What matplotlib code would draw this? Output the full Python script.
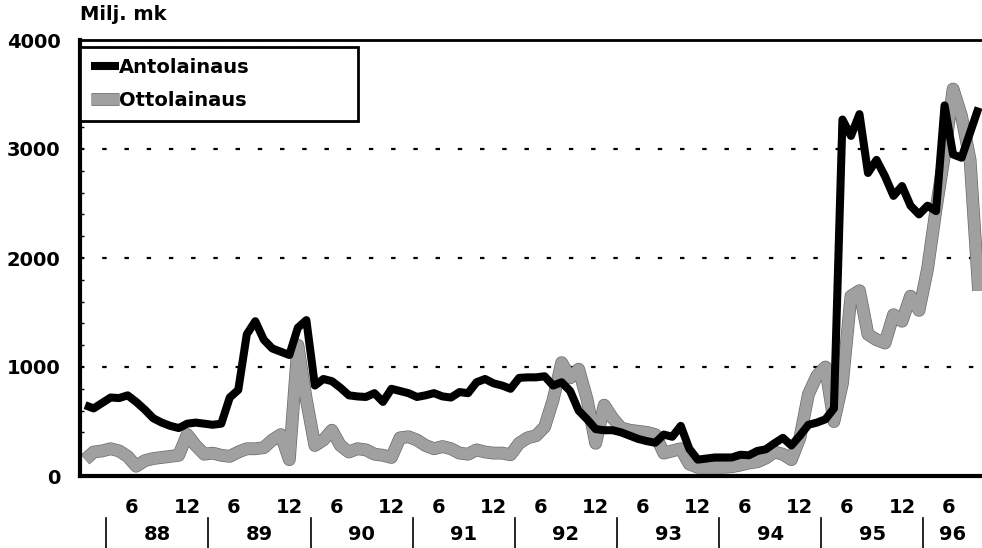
import matplotlib
matplotlib.use('Agg')
import matplotlib.pyplot as plt
import matplotlib.patheffects as pe
import numpy as np

plt.rcParams['font.family'] = ['DejaVu Sans']
plt.rcParams['font.weight'] = 'bold'

# monthly values, Jan 1988 -> Oct 1996 (milj. mk)
antolainaus = [650, 620, 670, 720, 715, 740, 680, 610, 530, 490, 460, 440,
               480, 490, 480, 470, 480, 720, 790, 1300, 1420, 1250, 1170, 1140,
               1110, 1360, 1430, 830, 890, 870, 810, 740, 730, 725, 760, 680,
               800, 780, 760, 725, 740, 760, 730, 720, 770, 760, 860, 890,
               850, 830, 800, 900, 905, 905, 915, 830, 860, 780, 600, 520,
               430, 420, 420, 400, 370, 340, 320, 305, 380, 360, 460, 250,
               150, 160, 170, 170, 170, 195, 190, 230, 245, 300, 350, 280,
               370, 470, 490, 520, 620, 3270, 3120, 3320, 2780, 2900, 2750, 2570,
               2660, 2480, 2400, 2480, 2430, 3400, 2950, 2920, 3150, 3380]
ottolainaus = [150, 220, 230, 250, 230, 180, 90, 140, 160, 170, 180, 190,
               380, 280, 200, 210, 190, 180, 220, 250, 250, 260, 330, 380,
               150, 1200, 700, 280, 330, 420, 280, 220, 250, 240, 200, 190,
               170, 350, 360, 330, 280, 250, 270, 250, 210, 200, 240, 220,
               210, 210, 195, 300, 350, 370, 450, 700, 1040, 900, 980, 700,
               300, 650, 530, 440, 420, 410, 400, 380, 210, 230, 250, 110,
               80, 80, 80, 80, 85, 100, 120, 130, 165, 220, 200, 150,
               350, 750, 920, 1000, 500, 850, 1650, 1700, 1300, 1250, 1220, 1480,
               1420, 1650, 1520, 1900, 2450, 2950, 3550, 3300, 2900, 1700]
years = ['88', '89', '90', '91', '92', '93', '94', '95', '96']
month_labels = ['6', '12']
yticks = [0, 1000, 2000, 3000, 4000]

months = np.arange(len(antolainaus))

fig = plt.figure(figsize=(9.82, 5.48), dpi=100)
ax = fig.add_axes([80/982, 1-476/548, 902/982, 436/548])

gl, = ax.plot(months, ottolainaus, color='#a0a0a0', lw=8.2, solid_joinstyle='round',
              solid_capstyle='butt', label='Ottolainaus',
              path_effects=[pe.Stroke(linewidth=9.2, foreground='#6a6a6a'), pe.Normal()])
bl, = ax.plot(months, antolainaus, color='black', lw=5.8, solid_joinstyle='round',
              solid_capstyle='butt', label='Antolainaus')

ax.set_xlim(-0.6, len(antolainaus) - 0.6)
ax.set_ylim(0, 4000)
ax.set_yticks(yticks)
ax.set_yticklabels([str(v) for v in yticks], fontsize=14, fontweight='bold')
ax.set_yticks(np.arange(0, 4001, 200), minor=True)
ax.tick_params(axis='y', which='major', length=0, pad=14)
ax.tick_params(axis='y', which='minor', length=3, width=1, direction='in')
ax.set_xticks([])

ax.yaxis.grid(True, linestyle=(0, (2, 8)), linewidth=1.6, color='black')
ax.set_axisbelow(True)

ax.spines['right'].set_visible(False)
ax.spines['left'].set_linewidth(3)
ax.spines['bottom'].set_linewidth(3)
ax.spines['top'].set_linewidth(2)

# x labels: month numbers, year labels and separators
trans = ax.get_xaxis_transform()
for i, y in enumerate(years):
    start = 12 * i + 2.5
    end = min(start + 12, len(antolainaus) - 0.6)
    ax.plot([start, start], [-0.096, -0.17], color='black', lw=1.2,
            transform=trans, clip_on=False)
    ax.text((start + end) / 2, -0.135, y, transform=trans, ha='center', va='center',
            fontsize=14, fontweight='bold')
    for m in month_labels:
        pos = 12 * i + (5.5 if m == '6' else 12)
        if pos < len(antolainaus) - 1:
            ax.text(pos, -0.072, m, transform=trans, ha='center', va='center',
                    fontsize=14, fontweight='bold')

fig.text(80/982, 1-14/548, 'Milj. mk', ha='left', va='center', fontsize=14, fontweight='bold')

leg = ax.legend(handles=[bl, gl], loc='upper left', bbox_to_anchor=(0, 0.8165, 0.308, 0.1675),
                mode='expand', borderaxespad=0, fancybox=False, framealpha=1,
                edgecolor='black', handlelength=1.45, handletextpad=0.0,
                borderpad=0.55, labelspacing=0.75, prop={'size': 14, 'weight': 'bold'})
leg.get_frame().set_linewidth(2)

fig.savefig('out.png', dpi=100)
